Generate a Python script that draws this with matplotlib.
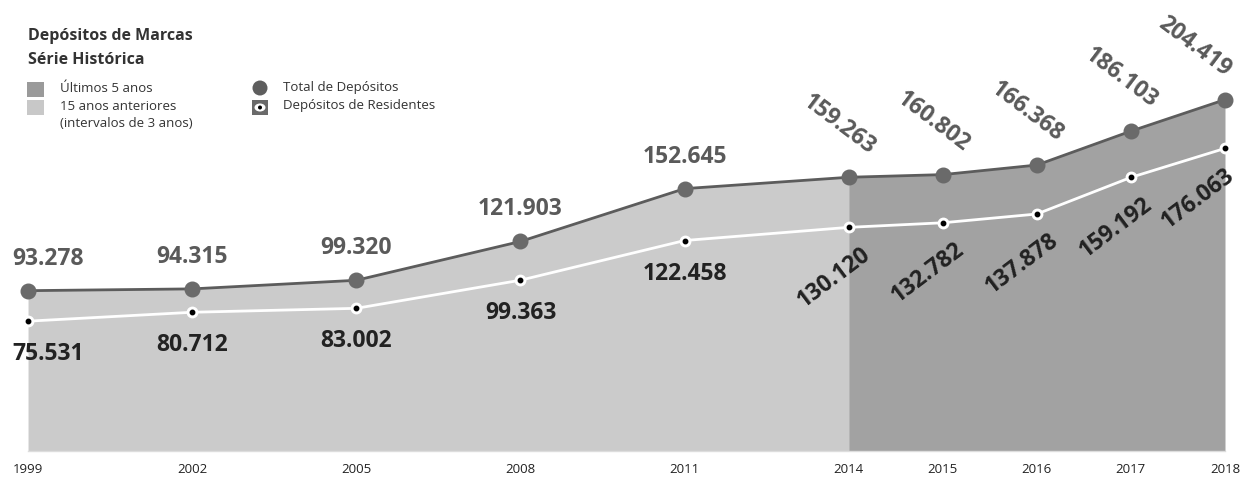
import matplotlib.pyplot as plt
from matplotlib.patches import Rectangle, Ellipse
import numpy as np

plt.rcParams['font.family'] = ['Open Sans', 'DejaVu Sans']

years = [1999, 2002, 2005, 2008, 2011, 2014, 2015, 2016, 2017, 2018]
total = [93278, 94315, 99320, 121903, 152645, 159263, 160802, 166368, 186103, 204419]
residentes = [75531, 80712, 83002, 99363, 122458, 130120, 132782, 137878, 159192, 176063]


def xpos(y):
    # 3-year steps before 2014 get a wider spacing than the yearly steps after
    return (min(y, 2014) - 1999) / 3 * 1.745 + max(y - 2014, 0)


def fmt(v):
    return f"{v:,}".replace(",", ".")


x = np.array([xpos(y) for y in years])
tot = np.array(total) / 1000
res = np.array(residentes) / 1000
split = years.index(2014)

fig = plt.figure(figsize=(12.44, 4.79), dpi=100)
ax = fig.add_axes([0, 0, 1, 1])
ax.set_xlim(-0.298, 12.927)
ax.set_ylim(-16.3, 262.4)
ax.axis('off')

# areas under the total line
ax.fill_between(x[:split + 1], 0, tot[:split + 1], color='#cbcbcb', lw=0)
ax.fill_between(x[split:], 0, tot[split:], color='#a2a2a2', lw=0)
ax.plot([x[0], x[-1]], [0, 0], color='#dddddd', lw=1)

# lines and markers
ax.plot(x, tot, color='#5c5c5c', lw=2, zorder=3)
ax.plot(x, tot, 'o', color='#6a6a6a', ms=10.5, zorder=4)
ax.plot(x, res, color='white', lw=2, zorder=3)
ax.plot(x, res, 'o', color='white', ms=7.5, zorder=4)
ax.plot(x, res, 'o', color='black', ms=3.2, zorder=5)

# value labels
lbl = dict(fontsize=16.5, fontweight='bold')
for i, (xi, t, r) in enumerate(zip(x, tot, res)):
    if i < split:
        ha = 'left' if i == 0 else 'center'
        dx = -16 if i == 0 else 0
        ax.annotate(fmt(total[i]), (xi, t), xytext=(dx, 32), textcoords='offset pixels',
                    ha=ha, va='center', color='#5a5a5a', **lbl)
        ax.annotate(fmt(residentes[i]), (xi, r), xytext=(dx, -33), textcoords='offset pixels',
                    ha=ha, va='center', color='#222222', **lbl)
    else:
        last = i == len(years) - 1
        ax.annotate(fmt(total[i]), (xi, t), xytext=(-30 if last else -10, 53),
                    textcoords='offset pixels', ha='center', va='center',
                    rotation=-37, rotation_mode='anchor', color='#5a5a5a', **lbl)
        ax.annotate(fmt(residentes[i]), (xi, r), xytext=(-27 if last else -15, -50),
                    textcoords='offset pixels', ha='center', va='center',
                    rotation=37, rotation_mode='anchor', color='#222222', **lbl)

# year labels
for xi, y in zip(x, years):
    ax.text(xi, -10.5, str(y), ha='center', va='center', fontsize=9.5,
            color='#222222')


# title and legend, placed in pixel coordinates from the top left
def fp(px, py):
    return px / 1244, 1 - py / 479


fig.text(*fp(28, 36), 'Depósitos de Marcas', fontsize=11.5, fontweight='bold',
         color='#333333', va='center')
fig.text(*fp(28, 60), 'Série Histórica', fontsize=11.5, fontweight='bold',
         color='#333333', va='center')

w, h = 17 / 1244, 15 / 479
fig.patches.append(Rectangle(fp(27, 97), w, h, transform=fig.transFigure,
                             color='#9a9a9a', lw=0))
fig.patches.append(Rectangle(fp(27, 115), w, h, transform=fig.transFigure,
                             color='#c8c8c8', lw=0))
fig.text(*fp(60, 88), 'Últimos 5 anos', fontsize=9.5, color='#333333', va='center')
fig.text(*fp(60, 106), '15 anos anteriores', fontsize=9.5, color='#333333', va='center')
fig.text(*fp(60, 124), '(intervalos de 3 anos)', fontsize=9.5, color='#333333', va='center')

fig.patches.append(Ellipse(fp(260, 88), 15 / 1244, 15 / 479, transform=fig.transFigure,
                           color='#5e5e5e', lw=0))
fig.patches.append(Rectangle(fp(252, 115), 16 / 1244, 15 / 479, transform=fig.transFigure,
                             color='#6a6a6a', lw=0))
fig.patches.append(Ellipse(fp(260, 107.5), 11 / 1244, 8 / 479, transform=fig.transFigure,
                           color='white', lw=0))
fig.patches.append(Ellipse(fp(260, 107.5), 4 / 1244, 4 / 479, transform=fig.transFigure,
                           color='black', lw=0))
fig.text(*fp(283, 88), 'Total de Depósitos', fontsize=9.5, color='#333333', va='center')
fig.text(*fp(283, 106), 'Depósitos de Residentes', fontsize=9.5, color='#333333', va='center')

fig.savefig('out.png', dpi=100)
